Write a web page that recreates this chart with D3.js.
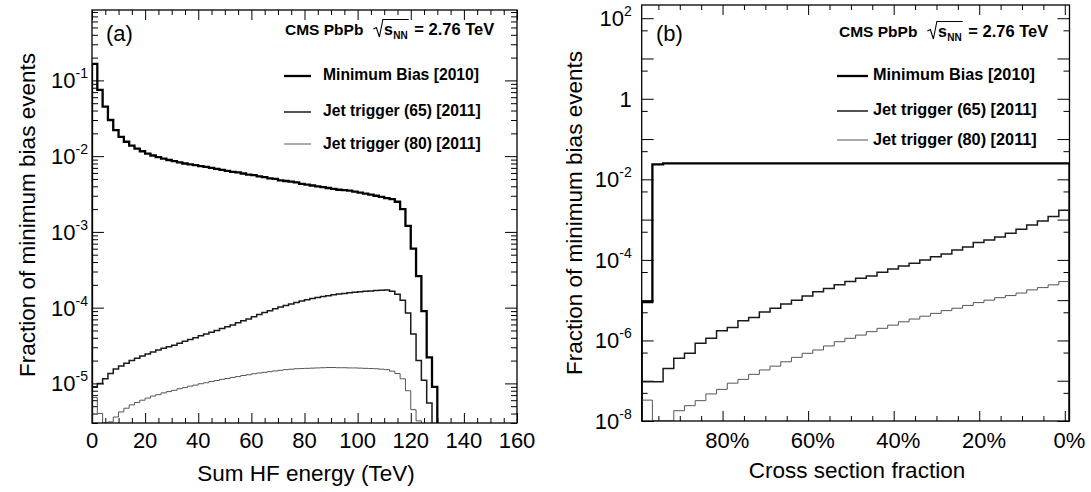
<!DOCTYPE html>
<html><head><meta charset="utf-8">
<script src="https://cdn.jsdelivr.net/npm/d3@7"></script>
<style>
html,body{margin:0;padding:0;background:#fff;}
svg{display:block;font-family:"Liberation Sans",Arial,Helvetica,sans-serif;}
</style></head><body>
<svg id="chart" width="1091" height="492"></svg>
<script>
// ---------------- DATA ----------------
const seriesNames = ["Minimum Bias [2010]", "Jet trigger (65) [2011]", "Jet trigger (80) [2011]"];

// Panel (a): Sum HF energy, 2 TeV bins starting at 0
const hfBinStart = 0, hfBinWidth = 2;
const hfMinBias = [0.165, 0.075, 0.045, 0.030, 0.022, 0.018, 0.0155, 0.0138, 0.0126, 0.0116,
  0.0108, 0.0102, 0.0097, 0.0093, 0.0089, 0.0086, 0.0083, 0.0080, 0.0078, 0.0076,
  0.0074, 0.0072, 0.0070, 0.0068, 0.0066, 0.0064, 0.0062, 0.0061, 0.0059, 0.0057,
  0.0056, 0.0054, 0.0053, 0.0051, 0.0050, 0.0048, 0.0047, 0.0046, 0.0045, 0.0043,
  0.0042, 0.0041, 0.0040, 0.0039, 0.0038, 0.0037, 0.0036, 0.00355, 0.0035, 0.0034,
  0.0033, 0.0032, 0.0031, 0.0030, 0.0029, 0.0028, 0.0027, 0.0025, 0.0020, 0.0012,
  0.0006, 0.00026, 0.00009, 0.000022, 0.000009];
const hfJet65 = [9e-6, 1.0e-5, 1.15e-5, 1.35e-5, 1.55e-5, 1.7e-5, 1.85e-5, 2.0e-5, 2.15e-5, 2.3e-5,
  2.45e-5, 2.6e-5, 2.75e-5, 2.9e-5, 3.05e-5, 3.2e-5, 3.4e-5, 3.6e-5, 3.8e-5, 4.0e-5,
  4.25e-5, 4.5e-5, 4.75e-5, 5.0e-5, 5.3e-5, 5.6e-5, 5.9e-5, 6.3e-5, 6.7e-5, 7.1e-5,
  7.6e-5, 8.1e-5, 8.6e-5, 9.1e-5, 9.7e-5, 1.02e-4, 1.07e-4, 1.12e-4, 1.17e-4, 1.22e-4,
  1.27e-4, 1.32e-4, 1.36e-4, 1.40e-4, 1.44e-4, 1.48e-4, 1.51e-4, 1.54e-4, 1.57e-4, 1.60e-4,
  1.62e-4, 1.64e-4, 1.66e-4, 1.68e-4, 1.70e-4, 1.71e-4, 1.65e-4, 1.5e-4, 1.25e-4, 8.5e-5,
  4.5e-5, 2.0e-5, 1.1e-5, 5.5e-6];
const hfJet80 = [6.5e-6, 4e-6, 0, 3.1e-6, 3.6e-6, 4.2e-6, 4.7e-6, 5.2e-6, 5.6e-6, 6.0e-6,
  6.4e-6, 6.8e-6, 7.1e-6, 7.5e-6, 7.8e-6, 8.1e-6, 8.5e-6, 8.8e-6, 9.2e-6, 9.5e-6,
  9.9e-6, 1.02e-5, 1.06e-5, 1.09e-5, 1.13e-5, 1.16e-5, 1.2e-5, 1.23e-5, 1.27e-5, 1.3e-5,
  1.34e-5, 1.37e-5, 1.4e-5, 1.43e-5, 1.46e-5, 1.49e-5, 1.52e-5, 1.54e-5, 1.56e-5, 1.57e-5,
  1.58e-5, 1.59e-5, 1.6e-5, 1.61e-5, 1.62e-5, 1.62e-5, 1.61e-5, 1.61e-5, 1.6e-5, 1.6e-5,
  1.59e-5, 1.58e-5, 1.57e-5, 1.56e-5, 1.54e-5, 1.52e-5, 1.45e-5, 1.35e-5, 1.15e-5, 8e-6,
  4.5e-6, 3.2e-6];
const hfXTicks = [0, 20, 40, 60, 80, 100, 120, 140, 160];
const hfYTicks = [1e-5, 1e-4, 1e-3, 1e-2, 1e-1];

// Panel (b): cross section fraction, 2.5% bins from 100% down to 0%
const xfBinStart = 100, xfBinWidth = -2.5;
const xfMinBias = [9e-6, 0.0235, 0.025, 0.025, 0.025, 0.025, 0.025, 0.025, 0.025, 0.025,
  0.025, 0.025, 0.025, 0.025, 0.025, 0.025, 0.025, 0.025, 0.025, 0.025,
  0.025, 0.025, 0.025, 0.025, 0.025, 0.025, 0.025, 0.025, 0.025, 0.025,
  0.025, 0.025, 0.025, 0.025, 0.025, 0.025, 0.025, 0.025, 0.025, 0.025];
const xfJet65 = [9.4e-8, 9.4e-8, 2.0e-7, 3.6e-7, 4.8e-7, 8.5e-7, 1.13e-6, 1.74e-6, 2.1e-6, 3.1e-6,
  3.7e-6, 5.1e-6, 6.3e-6, 8.0e-6, 1.0e-5, 1.26e-5, 1.62e-5, 1.96e-5, 2.4e-5, 2.9e-5,
  3.5e-5, 4.0e-5, 4.9e-5, 5.9e-5, 7.1e-5, 8.2e-5, 1.0e-4, 1.2e-4, 1.4e-4, 1.75e-4,
  2.1e-4, 2.7e-4, 3.1e-4, 3.7e-4, 4.6e-4, 5.8e-4, 7.3e-4, 9.2e-4, 1.2e-3, 1.7e-3];
const xfJet80 = [3.3e-8, 0, 0, 1.8e-8, 2.4e-8, 3.2e-8, 4.7e-8, 6.1e-8, 8.7e-8, 1.08e-7,
  1.44e-7, 1.85e-7, 2.3e-7, 2.95e-7, 3.8e-7, 4.8e-7, 5.8e-7, 7.3e-7, 9.3e-7, 1.13e-6,
  1.36e-6, 1.65e-6, 2.0e-6, 2.4e-6, 2.9e-6, 3.4e-6, 4.0e-6, 4.7e-6, 5.5e-6, 6.3e-6,
  7.4e-6, 8.7e-6, 1.0e-5, 1.15e-5, 1.3e-5, 1.5e-5, 1.8e-5, 2.05e-5, 2.4e-5, 2.9e-5];
const xfXTicks = [80, 60, 40, 20, 0];
const xfYTicks = [1e-8, 1e-6, 1e-4, 1e-2, 1, 1e2];

// ---------------- DRAWING ----------------
const svg = d3.select("#chart");
svg.append("rect").attr("width", 1091).attr("height", 492).attr("fill", "#fff");

const styles = [
  {stroke: "#000", width: 2.3},
  {stroke: "#1a1a1a", width: 1.5},
  {stroke: "#555", width: 1.0}
];

function stepPath(values, start, width, x, y, bottom) {
  let p = `M${x(start)},${bottom}`;
  values.forEach((v, i) => {
    const yy = v > 0 ? y(v) : bottom;
    p += `V${yy}H${x(start + width * (i + 1))}`;
  });
  return p + `V${bottom}`;
}

function cleanAxis(g) {
  g.select(".domain").remove();
  g.selectAll(".tick line").attr("stroke", "#000").attr("stroke-width", 1);
  g.selectAll(".tick text").remove();
}

function logMinors(domain, mults) {
  const out = [];
  const lo = Math.floor(Math.log10(domain[0])) - 1, hi = Math.ceil(Math.log10(domain[1]));
  for (let e = lo; e <= hi; e++) mults.forEach(m => {
    const v = m * Math.pow(10, e);
    if (v >= domain[0] && v <= domain[1]) out.push(v);
  });
  return out;
}

function drawPanel(cfg) {
  const {l, r, t, b} = cfg.frame;
  const g = svg.append("g");
  const x = cfg.x, y = cfg.y, xt = cfg.xTickScale || cfg.x;
  const id = "clip" + cfg.key;
  svg.append("clipPath").attr("id", id).append("rect")
    .attr("x", l).attr("y", t).attr("width", r - l).attr("height", b - t);

  const xMajor = cfg.xMajor, xMinor = cfg.xMinor;
  g.append("g").attr("transform", `translate(0,${b})`)
    .call(d3.axisBottom(xt).tickValues(xMajor).tickSize(-10)).call(cleanAxis);
  g.append("g").attr("transform", `translate(0,${b})`)
    .call(d3.axisBottom(xt).tickValues(xMinor).tickSize(-5)).call(cleanAxis);
  g.append("g").attr("transform", `translate(0,${t})`)
    .call(d3.axisTop(xt).tickValues(xMajor).tickSize(-10)).call(cleanAxis);
  g.append("g").attr("transform", `translate(0,${t})`)
    .call(d3.axisTop(xt).tickValues(xMinor).tickSize(-5)).call(cleanAxis);

  g.append("g").attr("transform", `translate(${l},0)`)
    .call(d3.axisLeft(y).tickValues(cfg.yMajor).tickSize(-12)).call(cleanAxis);
  g.append("g").attr("transform", `translate(${l},0)`)
    .call(d3.axisLeft(y).tickValues(cfg.yMinor).tickSize(-6)).call(cleanAxis);
  g.append("g").attr("transform", `translate(${r},0)`)
    .call(d3.axisRight(y).tickValues(cfg.yMajor).tickSize(-12)).call(cleanAxis);
  g.append("g").attr("transform", `translate(${r},0)`)
    .call(d3.axisRight(y).tickValues(cfg.yMinor).tickSize(-6)).call(cleanAxis);

  const hg = g.append("g").attr("clip-path", `url(#${id})`);
  cfg.series.forEach((vals, i) => {
    hg.append("path").attr("d", stepPath(vals, cfg.binStart, cfg.binWidth, x, y, b))
      .attr("fill", "none").attr("stroke", styles[i].stroke)
      .attr("stroke-width", styles[i].width).attr("stroke-linejoin", "miter");
  });

  g.append("rect").attr("x", l).attr("y", t).attr("width", r - l).attr("height", b - t)
    .attr("fill", "none").attr("stroke", "#000").attr("stroke-width", 1.3);

  g.selectAll(null).data(cfg.xLabels).enter().append("text")
    .attr("x", d => x(d)).attr("y", 448).attr("text-anchor", "middle")
    .attr("font-size", 22).text(d => cfg.xFormat(d));

  cfg.yLabels.forEach(v => {
    const e = Math.round(Math.log10(v));
    const tx = g.append("text").attr("x", l - cfg.yLabelGap).attr("y", y(v) + 8)
      .attr("text-anchor", "end").attr("font-size", 22);
    if (e === 0) { tx.text("1"); }
    else {
      tx.append("tspan").text("10");
      tx.append("tspan").attr("font-size", 14).attr("dy", -10).text(String(e));
    }
  });

  g.append("text").attr("transform", `translate(${cfg.yTitle[0]},${cfg.yTitle[1]}) rotate(-90)`)
    .attr("text-anchor", "middle").attr("font-size", 22.5).text("Fraction of minimum bias events");
  g.append("text").attr("x", cfg.xTitle[0]).attr("y", cfg.xTitle[1])
    .attr("text-anchor", "middle").attr("font-size", 22.5).text(cfg.xTitleText);

  g.append("text").attr("x", cfg.letterPos[0]).attr("y", cfg.letterPos[1])
    .attr("font-size", 22).text(cfg.letter);

  const lg = cfg.legend;
  let cx = lg.x;
  const hb = lg.headerY;
  const t1 = g.append("text").attr("x", cx).attr("y", hb).attr("font-size", 15.5)
    .attr("font-weight", "bold").text("CMS PbPb");
  cx += t1.node().getComputedTextLength() + 10;
  const rx0 = cx;
  cx += 10.5;
  const ts = g.append("text").attr("x", cx).attr("y", hb).attr("font-size", 16)
    .attr("font-weight", "bold").text("s");
  cx += ts.node().getComputedTextLength() + 0.5;
  const tn = g.append("text").attr("x", cx).attr("y", hb + 4).attr("font-size", 10)
    .attr("font-weight", "bold").text("NN");
  cx += tn.node().getComputedTextLength() + 1;
  g.append("path")
    .attr("d", `M${rx0},${hb - 6} L${rx0 + 3},${hb - 7.5} L${rx0 + 6},${hb + 2} L${rx0 + 9.5},${hb - 15.5} H${cx}`)
    .attr("fill", "none").attr("stroke", "#000").attr("stroke-width", 1.1);
  g.append("text").attr("x", cx + 1).attr("y", hb).attr("font-size", 16.5)
    .attr("font-weight", "bold").attr("xml:space", "preserve").text(" = 2.76 TeV");

  seriesNames.forEach((name, i) => {
    g.append("line").attr("x1", lg.lineX[0]).attr("x2", lg.lineX[1])
      .attr("y1", lg.lineY[i]).attr("y2", lg.lineY[i])
      .attr("stroke", styles[i].stroke).attr("stroke-width", styles[i].width);
    g.append("text").attr("x", lg.textX).attr("y", lg.textY[i]).attr("font-size", lg.fontSize)
      .attr("font-weight", "bold").text(name);
  });
}

// Panel (a)
const fa = {l: 92, r: 517, t: 10, b: 423};
const xa = d3.scaleLinear().domain([0, 160]).range([fa.l, fa.r]);
const ya = d3.scaleLog().domain([3e-6, 0.85]).range([fa.b, fa.t]).clamp(true);
drawPanel({
  key: "a", frame: fa, x: xa, y: ya,
  xMajor: hfXTicks, xMinor: d3.range(0, 161, 5).filter(v => v % 20 !== 0),
  yMajor: hfYTicks, yMinor: logMinors(ya.domain(), [2, 3, 4, 5, 6, 7, 8, 9]),
  series: [hfMinBias, hfJet65, hfJet80], binStart: hfBinStart, binWidth: hfBinWidth,
  xLabels: hfXTicks, xFormat: d => String(d), yLabels: hfYTicks, yLabelGap: 4,
  yTitle: [34.5, 215], xTitle: [306, 481], xTitleText: "Sum HF energy (TeV)",
  letter: "(a)", letterPos: [106, 41],
  legend: {x: 285, headerY: 35, lineX: [284, 311], lineY: [76, 112, 144],
           textX: 323, textY: [80, 116, 149], fontSize: 15.7}
});

// Panel (b)
const fb = {l: 641.7, r: 1069.5, t: 5, b: 421};
const xb = d3.scaleLinear().domain([100, 0]).range([fb.l, fb.r]);
const xbTick = d3.scaleLinear().domain([98.9, -1.1]).range([fb.l, fb.r]);
const yb = d3.scaleLog().domain([1e-8, Math.pow(10, 2.328)]).range([fb.b, fb.t]).clamp(true);
drawPanel({
  key: "b", frame: fb, x: xb, xTickScale: xbTick, y: yb,
  xMajor: xfXTicks, xMinor: d3.range(5, 100, 5).filter(v => v % 20 !== 0),
  yMajor: [1e-8, 1e-7, 1e-6, 1e-5, 1e-4, 1e-3, 1e-2, 1e-1, 1, 10, 100],
  yMinor: logMinors(yb.domain(), [5]),
  series: [xfMinBias, xfJet65, xfJet80], binStart: xfBinStart, binWidth: xfBinWidth,
  xLabels: xfXTicks, xFormat: d => d + "%", yLabels: xfYTicks, yLabelGap: 10,
  yTitle: [581.5, 213], xTitle: [857, 478], xTitleText: "Cross section fraction",
  letter: "(b)", letterPos: [656, 41],
  legend: {x: 839, headerY: 37, lineX: [837, 868], lineY: [76, 111, 140],
           textX: 873, textY: [80, 115, 145], fontSize: 16.3}
});
</script></body></html>
